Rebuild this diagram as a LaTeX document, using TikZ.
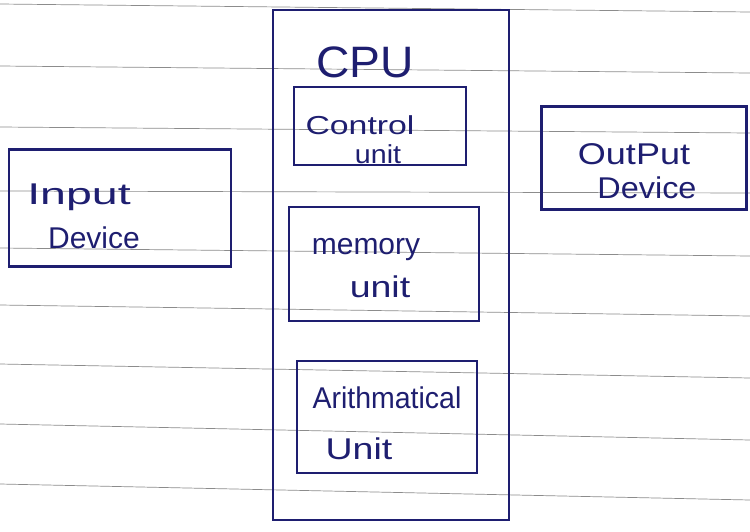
\documentclass[tikz,border=0pt]{standalone}
\usepackage{fontspec}
\setmainfont{Liberation Sans}
\definecolor{ink}{HTML}{1E1E70}
\definecolor{rule}{HTML}{8C8C8C}
\newcommand\wideby[2]{\scalebox{#1}[1]{#2}}
\begin{document}
\begin{tikzpicture}[x=1pt,y=-1pt,
  box/.style={draw=ink,line width=2.4pt,rectangle,inner sep=0pt},
  lbl/.style={text=ink,anchor=base,inner sep=0pt,font=\fontsize{30}{30}\selectfont},
  small/.style={font=\fontsize{26}{26}\selectfont},
  paperline/.style={draw=rule,line width=0.7pt}]
\useasboundingbox (0,0) rectangle (750,531);
\fill[white] (0,0) rectangle (750,531);
% ruled paper
\foreach \a/\b in {4/12,66/73,127/133,191/193,248/256,305/316,364/378,424/440,484/500}
  \draw[paperline] (0,\a) -- (750,\b);
% CPU enclosure
\node[box,minimum width=236pt,minimum height=510pt] (cpu) at (391,265) {};
\node[lbl,font=\fontsize{44}{44}\selectfont] (cpulabel) at (365,77) {\wideby{1.05}{CPU}};
% inner units
\node[box,minimum width=172pt,minimum height=78pt] (cu) at (380,126) {};
\node[lbl,small] (cut1) at (360,134) {\wideby{1.3}{Control}};
\node[lbl,small] (cut2) at (378,163) {\wideby{1.1}{unit}};
\node[box,minimum width=190pt,minimum height=114pt] (mu) at (384,264) {};
\node[lbl] (mut1) at (366,254) {memory};
\node[lbl] (mut2) at (380,297) {\wideby{1.25}{unit}};
\node[box,minimum width=180pt,minimum height=112pt] (au) at (387,417) {};
\node[lbl] (aut1) at (387,408) {\wideby{0.95}{Arithmatical}};
\node[lbl] (aut2) at (359,459) {\wideby{1.25}{Unit}};
% devices
\node[box,minimum width=222pt,minimum height=117pt] (in) at (120,208) {};
\node[lbl] (int1) at (79,204) {\wideby{1.55}{Input}};
\node[lbl] (int2) at (94,248) {Device};
\node[box,minimum width=205pt,minimum height=103pt] (out) at (644,158) {};
\node[lbl] (outt1) at (634,164) {\wideby{1.2}{OutPut}};
\node[lbl] (outt2) at (647,198) {\wideby{1.08}{Device}};
\end{tikzpicture}
\end{document}
